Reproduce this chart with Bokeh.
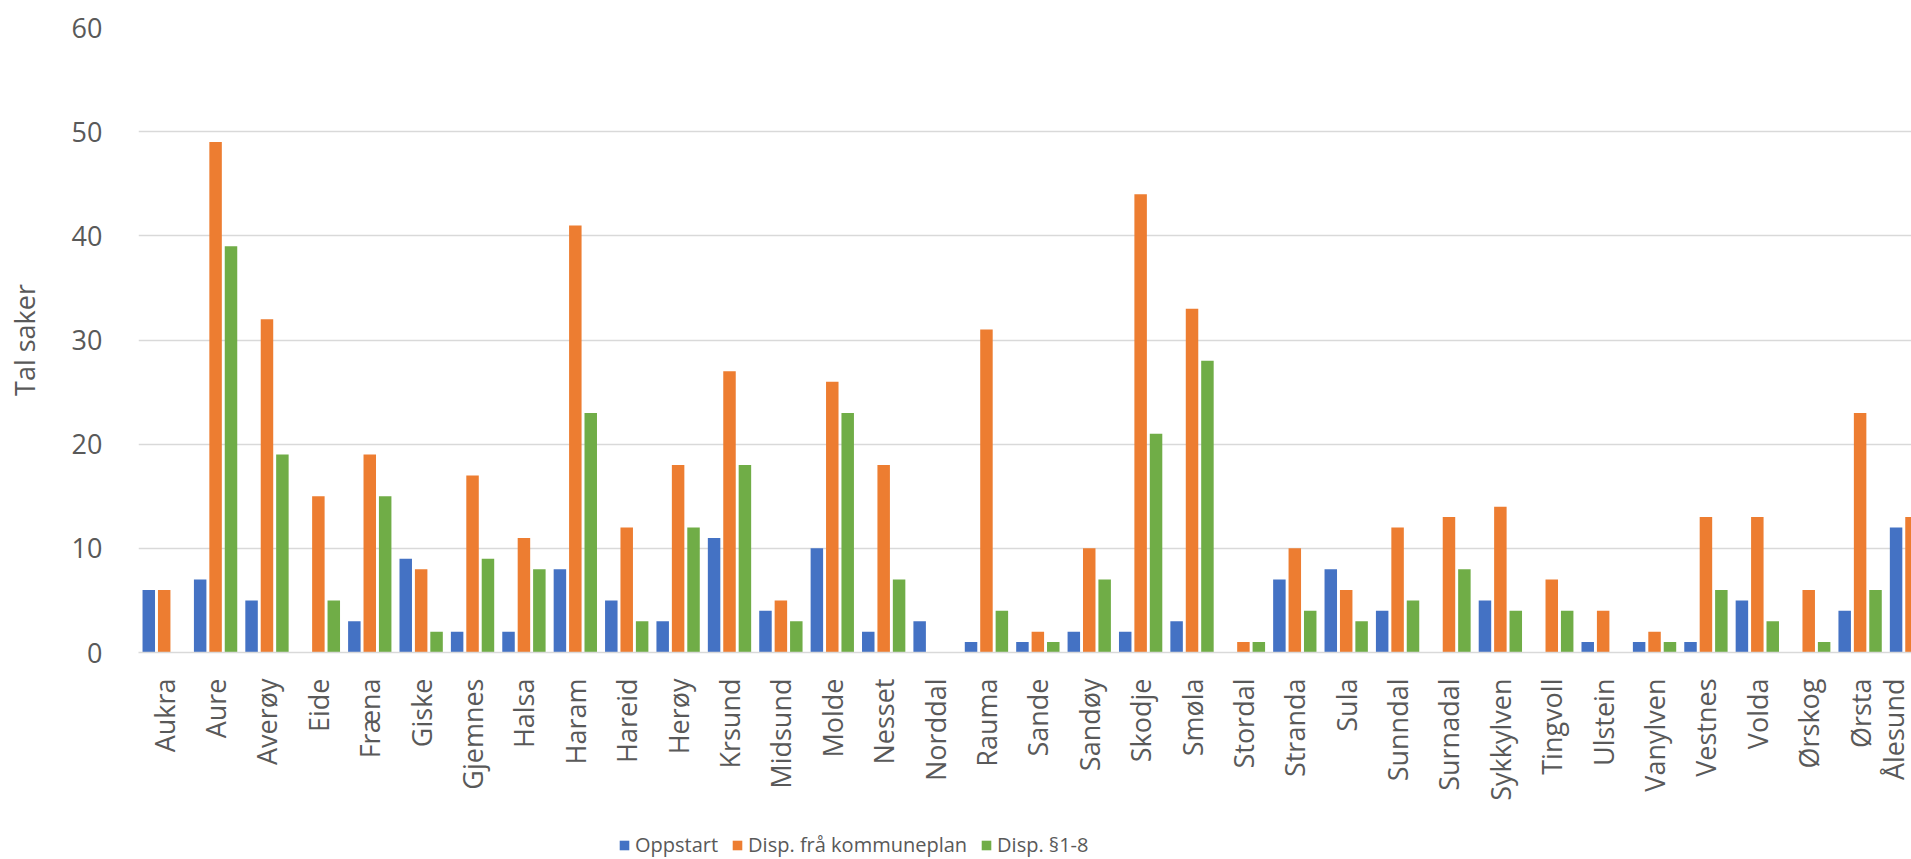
import math
from bokeh.plotting import figure
from bokeh.layouts import column
from bokeh.models import (ColumnDataSource, Range1d, FixedTicker, Legend, LegendItem)
from bokeh.transform import dodge
from bokeh.embed import file_html
from bokeh.resources import INLINE

kommunar = ["Aukra", "Aure", "Averøy", "Eide", "Fræna", "Giske", "Gjemnes", "Halsa",
            "Haram", "Hareid", "Herøy", "Krsund", "Midsund", "Molde", "Nesset", "Norddal",
            "Rauma", "Sande", "Sandøy", "Skodje", "Smøla", "Stordal", "Stranda", "Sula",
            "Sunndal", "Surnadal", "Sykkylven", "Tingvoll", "Ulstein", "Vanylven", "Vestnes",
            "Volda", "Ørskog", "Ørsta", "Ålesund"]
oppstart = [6, 7, 5, 0, 3, 9, 2, 2, 8, 5, 3, 11, 4, 10, 2, 3, 1, 1, 2, 2, 3, 0, 7, 8,
            4, 0, 5, 0, 1, 1, 1, 5, 0, 4, 12]
disp_kommuneplan = [6, 49, 32, 15, 19, 8, 17, 11, 41, 12, 18, 27, 5, 26, 18, 0, 31, 2, 10,
                    44, 33, 1, 10, 6, 12, 13, 14, 7, 4, 2, 13, 13, 6, 23, 13]
disp_18 = [0, 39, 19, 5, 15, 2, 9, 8, 23, 3, 12, 18, 3, 23, 7, 0, 4, 1, 7, 21, 28, 1, 4,
           3, 5, 8, 4, 4, 0, 1, 6, 3, 1, 6, 8]
series_names = ["Oppstart", "Disp. frå kommuneplan", "Disp. §1-8"]
colors = ["#4472C4", "#ED7D31", "#70AD47"]
y_ticks = [0, 10, 20, 30, 40, 50, 60]

FONT = "Open Sans"
GREY = "#595959"

idx = list(range(len(kommunar)))
src = ColumnDataSource(dict(x=idx, a=oppstart, b=disp_kommuneplan, c=disp_18))

MAIN_H = 815
LEG_H = 859 - MAIN_H

p = figure(width=1911, height=MAIN_H, output_backend="svg", toolbar_location=None,
           x_range=Range1d(-0.5, 34.0), y_range=Range1d(0, 60),
           min_border_left=138, min_border_right=0, min_border_top=27,
           min_border_bottom=MAIN_H - 652)
p.outline_line_color = None
p.background_fill_color = "white"
p.border_fill_color = "white"

bw = 0.243
off = 0.30
for col, dx, c in zip(["a", "b", "c"], [-off, 0, off], colors):
    p.vbar(x=dodge("x", dx), top=col, width=bw, bottom=0, source=src,
           fill_color=c, line_color=None)

# axes
p.xaxis.ticker = FixedTicker(ticks=idx)
p.xaxis.major_label_overrides = {i: k for i, k in zip(idx, kommunar)}
p.xaxis.major_label_orientation = math.pi / 2
p.xaxis.major_label_text_font = FONT
p.xaxis.major_label_text_font_size = "27px"
p.xaxis.major_label_text_color = GREY
p.xaxis.major_label_standoff = 20
p.xaxis.major_tick_line_color = None
p.xaxis.minor_tick_line_color = None
p.xaxis.axis_line_color = "#D9D9D9"
p.xaxis.axis_line_width = 1.5

p.yaxis.ticker = FixedTicker(ticks=y_ticks)
p.yaxis.major_label_text_font = FONT
p.yaxis.major_label_text_font_size = "27px"
p.yaxis.major_label_text_color = GREY
p.yaxis.major_label_standoff = 30
p.yaxis.major_tick_line_color = None
p.yaxis.minor_tick_line_color = None
p.yaxis.axis_line_color = None
p.yaxis.axis_label = "Tal saker"
p.yaxis.axis_label_text_font = FONT
p.yaxis.axis_label_text_font_size = "27px"
p.yaxis.axis_label_text_font_style = "normal"
p.yaxis.axis_label_text_color = GREY
p.yaxis.axis_label_standoff = 26

p.xgrid.grid_line_color = None
p.ygrid.grid_line_color = "#D9D9D9"
p.ygrid.grid_line_width = 1.3

# legend strip below the chart
pl = figure(width=1911, height=LEG_H, output_backend="svg", toolbar_location=None,
            x_range=Range1d(0, 1), y_range=Range1d(0, 1),
            min_border_left=0, min_border_right=0, min_border_top=0, min_border_bottom=0,
            x_axis_location=None, y_axis_location=None)
pl.outline_line_color = None
pl.xgrid.grid_line_color = None
pl.ygrid.grid_line_color = None
# one off-screen bar per series so that the legend can draw its swatch
leg_renderers = [pl.vbar(x=[-10], top=[-10], width=0.1, fill_color=c, line_color=None)
                 for c in colors]

legend = Legend(items=[LegendItem(label=n, renderers=[r]) for n, r in zip(series_names, leg_renderers)],
                orientation="horizontal", location=(480, 1),
                padding=0, margin=0, spacing=13, label_standoff=5,
                glyph_width=12, glyph_height=12,
                label_text_font=FONT, label_text_font_size="20px",
                label_text_color=GREY, border_line_color=None, background_fill_alpha=0)
pl.add_layout(legend, "center")

open("out.html", "w").write(file_html(column(p, pl, spacing=0), INLINE))
